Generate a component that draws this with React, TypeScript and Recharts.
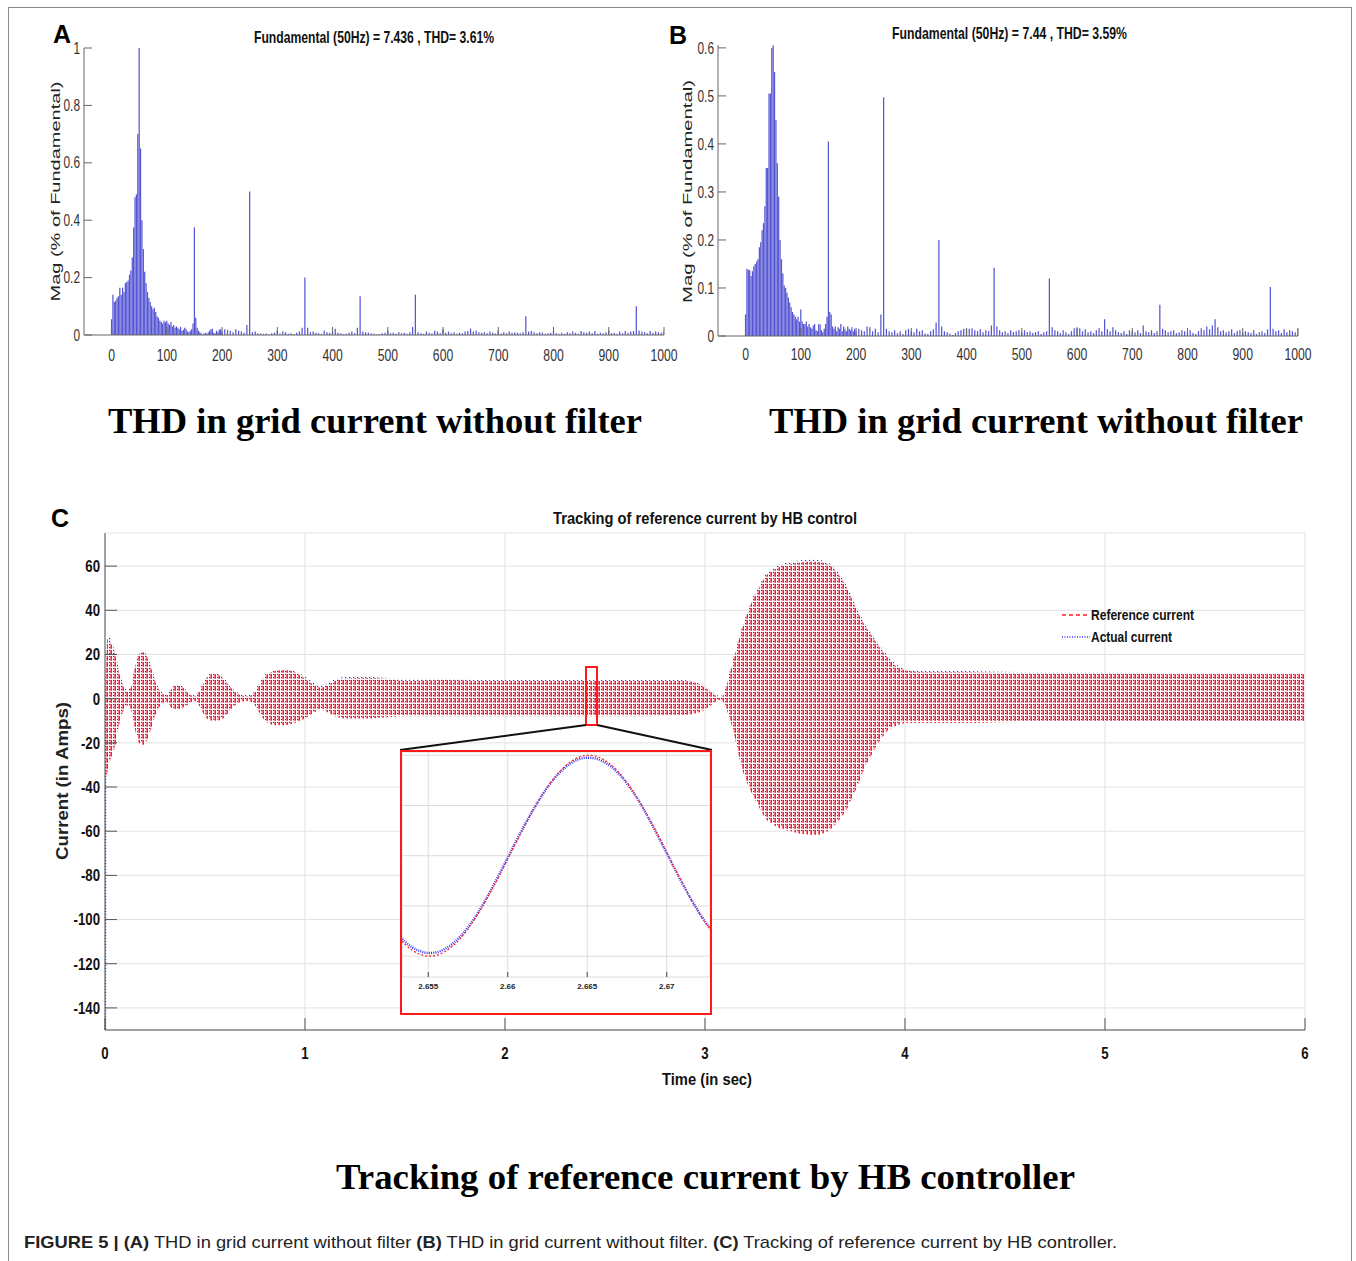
import React from 'react';
import {
  BarChart, Bar, XAxis, YAxis, ComposedChart, Area, Line, LineChart,
  CartesianGrid, ReferenceArea, ReferenceLine, Legend,
} from 'recharts';

const SANS = "'Liberation Sans',Arial,sans-serif";
const SERIF = "'Liberation Serif','Times New Roman',serif";

// ---------- Panel A / B : harmonic spectra ----------
const LOW_BAND_STEP = 2.5;   // Hz, 0..200
const HIGH_BAND_START = 205; // Hz
const HIGH_BAND_STEP = 5;    // Hz, 205..1000
const SPEC_X_TICKS = [0, 100, 200, 300, 400, 500, 600, 700, 800, 900, 1000];
const MAG_A_TICKS = [0, 0.2, 0.4, 0.6, 0.8, 1];
const MAG_B_TICKS = [0, 0.1, 0.2, 0.3, 0.4, 0.5, 0.6];

const magA_low = [
  0.055, 0.14, 0.115, 0.12, 0.13, 0.135, 0.165, 0.14, 0.165, 0.15,
  0.18, 0.185, 0.19, 0.21, 0.225, 0.27, 0.375, 0.48, 0.49, 0.70,
  1.0, 0.65, 0.40, 0.30, 0.22, 0.18, 0.15, 0.13, 0.115, 0.10,
  0.09, 0.095, 0.08, 0.065, 0.06, 0.05, 0.045, 0.04, 0.05, 0.045,
  0.05, 0.04, 0.035, 0.045, 0.03, 0.035, 0.025, 0.03, 0.025, 0.02,
  0.028, 0.015, 0.018, 0.025, 0.02, 0.012, 0.01, 0.015, 0.02, 0.04,
  0.375, 0.06, 0.025, 0.015, 0.01, 0.005, 0.002, 0.005, 0.008, 0.004,
  0.01, 0.015, 0.02, 0.022, 0.008, 0.005, 0.015, 0.01, 0.018, 0.02,
  0.012,
];
const magA_high = [
  0.02, 0.018, 0.015, 0.01, 0.02, 0.015, 0.012, 0.008, 0.035, 0.50,
  0.01, 0.012, 0.006, 0.005, 0.004, 0.005, 0.003, 0.006, 0.008, 0.015,
  0.005, 0.012, 0.01, 0.004, 0.006, 0.003, 0.008, 0.012, 0.025, 0.20,
  0.025, 0.01, 0.012, 0.008, 0.006, 0.004, 0.015, 0.01, 0.008, 0.012,
  0.022, 0.008, 0.006, 0.003, 0.004, 0.008, 0.012, 0.006, 0.025, 0.135,
  0.012, 0.01, 0.008, 0.005, 0.004, 0.002, 0.003, 0.006, 0.008, 0.015,
  0.006, 0.008, 0.004, 0.01, 0.006, 0.008, 0.004, 0.01, 0.028, 0.14,
  0.01, 0.006, 0.004, 0.012, 0.008, 0.005, 0.015, 0.012, 0.006, 0.02,
  0.008, 0.012, 0.006, 0.01, 0.004, 0.008, 0.006, 0.012, 0.014, 0.022,
  0.012, 0.016, 0.01, 0.008, 0.01, 0.006, 0.012, 0.008, 0.005, 0.016,
  0.005, 0.01, 0.006, 0.012, 0.008, 0.01, 0.008, 0.006, 0.01, 0.065,
  0.012, 0.014, 0.01, 0.006, 0.01, 0.008, 0.004, 0.006, 0.008, 0.015,
  0.006, 0.004, 0.008, 0.004, 0.01, 0.006, 0.012, 0.008, 0.004, 0.014,
  0.01, 0.008, 0.012, 0.006, 0.014, 0.004, 0.008, 0.006, 0.01, 0.016,
  0.006, 0.008, 0.004, 0.012, 0.006, 0.014, 0.008, 0.012, 0.014, 0.10,
  0.016, 0.012, 0.01, 0.006, 0.014, 0.008, 0.012, 0.01, 0.008, 0.012,
];

const magB_low = [
  0.045, 0.14, 0.138, 0.137, 0.125, 0.135, 0.145, 0.15, 0.155, 0.16,
  0.185, 0.195, 0.22, 0.235, 0.27, 0.35, 0.35, 0.505, 0.505, 0.60,
  0.605, 0.55, 0.45, 0.36, 0.29, 0.20, 0.16, 0.13, 0.105, 0.10,
  0.09, 0.08, 0.07, 0.06, 0.05, 0.045, 0.04, 0.035, 0.04, 0.03,
  0.055, 0.03, 0.025, 0.025, 0.03, 0.02, 0.025, 0.018, 0.015, 0.022,
  0.025, 0.012, 0.01, 0.025, 0.024, 0.012, 0.008, 0.015, 0.025, 0.04,
  0.405, 0.05, 0.045, 0.02, 0.015, 0.02, 0.01, 0.018, 0.015, 0.025,
  0.01, 0.02, 0.015, 0.01, 0.02, 0.015, 0.012, 0.018, 0.01, 0.015,
  0.01,
];
const magB_high = [
  0.015, 0.012, 0.01, 0.02, 0.018, 0.01, 0.015, 0.008, 0.045, 0.497,
  0.015, 0.01, 0.008, 0.012, 0.006, 0.01, 0.004, 0.012, 0.015, 0.01,
  0.008, 0.015, 0.01, 0.012, 0.005, 0.004, 0.01, 0.014, 0.028, 0.20,
  0.02, 0.01, 0.008, 0.005, 0.002, 0.006, 0.01, 0.012, 0.015, 0.014,
  0.015, 0.016, 0.012, 0.01, 0.014, 0.008, 0.012, 0.01, 0.022, 0.142,
  0.02, 0.012, 0.008, 0.01, 0.006, 0.012, 0.008, 0.01, 0.012, 0.008,
  0.012, 0.008, 0.01, 0.006, 0.008, 0.01, 0.004, 0.008, 0.01, 0.12,
  0.018, 0.012, 0.01, 0.006, 0.012, 0.008, 0.004, 0.01, 0.016, 0.018,
  0.016, 0.01, 0.014, 0.008, 0.01, 0.006, 0.012, 0.016, 0.01, 0.035,
  0.014, 0.01, 0.018, 0.012, 0.008, 0.006, 0.01, 0.004, 0.012, 0.01,
  0.008, 0.012, 0.006, 0.022, 0.01, 0.008, 0.012, 0.006, 0.01, 0.065,
  0.015, 0.012, 0.008, 0.01, 0.012, 0.006, 0.008, 0.012, 0.01, 0.008,
  0.012, 0.006, 0.004, 0.01, 0.016, 0.012, 0.02, 0.014, 0.022, 0.035,
  0.018, 0.01, 0.012, 0.008, 0.01, 0.014, 0.006, 0.01, 0.012, 0.008,
  0.01, 0.008, 0.006, 0.012, 0.004, 0.008, 0.01, 0.006, 0.014, 0.102,
  0.015, 0.01, 0.012, 0.006, 0.014, 0.008, 0.012, 0.01, 0.008, 0.015,
];

// ---------- Panel C : current tracking (envelopes of the 50 Hz waveform) ----------
const TIME_TICKS = [0, 1, 2, 3, 4, 5, 6];
const CURRENT_TICKS = [-140, -120, -100, -80, -60, -40, -20, 0, 20, 40, 60];
const tC = [
  0, 0.008, 0.012, 0.03, 0.05, 0.07, 0.09, 0.11, 0.13, 0.15, 0.17,
  0.19, 0.21, 0.23, 0.25, 0.27, 0.29, 0.31, 0.33, 0.35, 0.37,
  0.39, 0.41, 0.43, 0.45, 0.47, 0.50, 0.53, 0.56, 0.59, 0.62,
  0.65, 0.68, 0.71, 0.74, 0.77, 0.80, 0.85, 0.90, 0.95, 1.00,
  1.05, 1.08, 1.11, 1.15, 1.20, 1.30, 1.40, 1.50, 1.70, 1.90,
  2.10, 2.30, 2.50, 2.70, 2.90, 2.96, 3.00, 3.03, 3.06, 3.08,
  3.10, 3.12, 3.15, 3.18, 3.21, 3.24, 3.27, 3.30, 3.34, 3.38,
  3.43, 3.47, 3.51, 3.55, 3.59, 3.63, 3.67, 3.71, 3.74, 3.77,
  3.80, 3.83, 3.86, 3.89, 3.92, 3.95, 3.98, 4.02, 4.10, 4.30,
  4.60, 5.00, 5.40, 5.80, 6.00,
];
const refHi = [
  0, 20, 27, 25, 20, 12, 6, 3, 5, 14, 20,
  21, 19, 14, 8, 4, 2, 1.5, 4, 6, 6,
  5, 3, 1.5, 1, 3, 8, 11, 11, 9, 6,
  3, 1.5, 1, 2, 6, 10, 12.5, 13, 12, 9,
  6, 5, 6, 8, 9, 9.5, 9, 8, 8.5, 8,
  8, 8, 8, 8, 8, 7, 5, 3, 1, 0.5,
  3, 10, 20, 30, 38, 45, 50, 55, 58, 60,
  61, 61.5, 62, 62, 61.5, 60, 56, 50, 44, 38,
  33, 29, 25, 21, 18, 15, 13.5, 12.5, 12, 12,
  11.5, 11.5, 11, 11, 11,
];
const refLo = [
  -35, -35, -33, -27, -22, -12, -6, -3, -5, -14, -20,
  -21, -19, -14, -8, -4, -2, -1.5, -4, -5, -5,
  -4, -3, -1.5, -1, -3, -8, -10, -10, -9, -6,
  -3, -1.5, -1, -2, -6, -10, -12, -12, -11, -9,
  -6, -5, -6, -8, -9, -9, -8.5, -8, -8, -8,
  -8, -8, -8, -8, -7.5, -6.5, -5, -3, -1, -0.5,
  -3, -8, -18, -30, -38, -44, -49, -54, -57, -59,
  -60, -61, -61.5, -62, -61, -59, -55, -50, -44, -38,
  -31, -26, -21, -17, -14, -12.5, -11.5, -11, -11, -11,
  -10.5, -10.5, -10.5, -10.5, -10.5,
];
const actHi = [
  2, 24, 30, 27, 21, 13, 7, 3.5, 5.5, 15, 21,
  21.5, 20, 15, 9, 4.5, 2.5, 2, 4.5, 6.5, 6.5,
  5.5, 3.5, 2, 1.5, 3.5, 9, 12, 11.5, 10, 6.5,
  3.5, 2, 1.5, 2.5, 7, 11, 13, 13.5, 12.5, 10,
  7, 6, 7, 9, 10, 10, 9.5, 9, 9, 8.5,
  8.5, 8.5, 8.5, 8.5, 8.5, 7.5, 5.5, 3.5, 1.5, 1,
  4, 11, 21, 31, 39, 46, 51, 56, 59, 61,
  62, 62.5, 63, 63, 62.5, 61, 57, 51, 45, 39,
  34, 30, 26, 22, 19, 16, 14, 13, 12.5, 12.5,
  12, 12, 11.5, 11.5, 11.5,
];
const actLo = [
  -150, -150, -31, -26, -21, -11, -5.5, -2.5, -4.5, -13, -19,
  -20, -18, -13, -7.5, -3.5, -1.5, -1, -3.5, -4.5, -4.5,
  -3.5, -2.5, -1, -0.5, -2.5, -7.5, -9.5, -9.5, -8.5, -5.5,
  -2.5, -1, -0.5, -1.5, -5.5, -9.5, -11.5, -11.5, -10.5, -8.5,
  -5.5, -4.5, -5.5, -7.5, -8.5, -8.5, -8, -7.5, -7.5, -7.5,
  -7.5, -7.5, -7.5, -7.5, -7, -6, -4.5, -2.5, -0.5, 0,
  -2.5, -7.5, -17, -29, -37, -43, -48, -53, -56, -58,
  -59, -60, -60.5, -61, -60, -58, -54, -49, -43, -37,
  -30, -25, -20, -16, -13, -11.5, -10.5, -10, -10, -10,
  -10, -10, -10, -10, -10,
];

// ---------- Inset : zoom on one cycle ----------
const INSET_T_TICKS = [2.655, 2.66, 2.665, 2.67];
const INSET_Y_TICKS = [-8, -4, 0, 4, 8];
const insetT = [
  2.6530, 2.6535, 2.6540, 2.6545, 2.6550, 2.6555, 2.6560, 2.6565, 2.6570, 2.6575,
  2.6580, 2.6585, 2.6590, 2.6595, 2.6600, 2.6605, 2.6610, 2.6615, 2.6620, 2.6625,
  2.6630, 2.6635, 2.6640, 2.6645, 2.6650, 2.6655, 2.6660, 2.6665, 2.6670, 2.6675,
  2.6680, 2.6685, 2.6690, 2.6695, 2.6700, 2.6705, 2.6710, 2.6715, 2.6720, 2.6725,
  2.6730,
];
const insetRef = [
  -6.32, -7.01, -7.53, -7.86, -8.0, -7.94, -7.68, -7.24, -6.62, -5.83,
  -4.9, -3.85, -2.71, -1.5, -0.25, 1.0, 2.23, 3.41, 4.5, 5.48,
  6.32, 7.01, 7.53, 7.86, 8.0, 7.94, 7.68, 7.24, 6.62, 5.83,
  4.9, 3.85, 2.71, 1.5, 0.25, -1.0, -2.23, -3.41, -4.5, -5.48,
  -6.32,
];
const insetAct = [
  -6.1, -6.8, -7.3, -7.6, -7.75, -7.7, -7.45, -7.05, -6.45, -5.7,
  -4.8, -3.75, -2.6, -1.4, -0.15, 1.1, 2.3, 3.45, 4.5, 5.45,
  6.25, 6.9, 7.4, 7.7, 7.8, 7.75, 7.5, 7.1, 6.5, 5.75,
  4.85, 3.8, 2.65, 1.45, 0.2, -1.05, -2.25, -3.4, -4.45, -5.4,
  -6.2,
];

// ---------- data assembly ----------
function buildSpectrum(low: number[], high: number[]) {
  const rows = low.map((m, i) => ({ f: i * LOW_BAND_STEP, mag: m }));
  high.forEach((m, i) => rows.push({ f: HIGH_BAND_START + i * HIGH_BAND_STEP, mag: m }));
  return rows;
}
const specA = buildSpectrum(magA_low, magA_high);
const specB = buildSpectrum(magB_low, magB_high);
const trackData = tC.map((t, i) => ({ t, ref: [refLo[i], refHi[i]], act: [actLo[i], actHi[i]] }));
const insetData = insetT.map((t, i) => ({ t, ref: insetRef[i], act: insetAct[i] }));

const fmtMag = (v: number) => (v === 0 ? '0' : v === 1 ? '1' : v.toFixed(1));

// condensed tick text (Arial-Narrow look): Liberation Sans squeezed horizontally
function makeTick(o: { size: number; weight: number; fill: string; sx: number; dy: string; fmt?: (v: number) => string }) {
  return (p: any) => {
    const v = p.payload ? p.payload.value : '';
    const label = o.fmt ? o.fmt(v) : String(v);
    return (
      <g transform={`translate(${p.x},${p.y}) scale(${o.sx},1)`}>
        <text x={0} y={0} dy={o.dy} textAnchor={p.textAnchor} fontFamily={SANS} fontSize={o.size}
          fontWeight={o.weight} fill={o.fill}>{label}</text>
      </g>
    );
  };
}
const EmptyTick = () => <g />;

const specXTick = makeTick({ size: 16.5, weight: 400, fill: '#333', sx: 0.74, dy: '0.71em' });
const specYTick = makeTick({ size: 16, weight: 400, fill: '#333', sx: 0.74, dy: '0.355em', fmt: fmtMag });
const trackXTick = makeTick({ size: 16.5, weight: 700, fill: '#111', sx: 0.8, dy: '0.71em' });
const trackYTick = makeTick({ size: 16.5, weight: 700, fill: '#111', sx: 0.8, dy: '0.355em' });

function Spectrum(props: any) {
  const { data, left, margin, yDomain, yTicks, xTickMargin } = props;
  return (
    <div style={{ position: 'absolute', left, top: 0 }}>
      <BarChart width={700} height={380} data={data} margin={margin}>
        <XAxis dataKey="f" type="number" domain={[-50, 1000]} allowDataOverflow ticks={SPEC_X_TICKS}
          interval={0} height={30} tickSize={-8} tickMargin={xTickMargin} stroke="#666" tick={specXTick} />
        <XAxis xAxisId="top" orientation="top" type="number" domain={[-50, 1000]} allowDataOverflow
          ticks={SPEC_X_TICKS} interval={0} height={0} tickSize={-8} stroke="#666" tick={EmptyTick} />
        <YAxis type="number" domain={yDomain} allowDataOverflow ticks={yTicks} interval={0} width={30}
          tickSize={-8} tickMargin={12} stroke="#666" tick={specYTick} />
        <YAxis yAxisId="right" orientation="right" type="number" domain={yDomain} allowDataOverflow
          ticks={yTicks} interval={0} width={0} tickSize={-8} stroke="#666" tick={EmptyTick} />
        <Bar dataKey="mag" fill="#5656d4" barSize={1.4} isAnimationActive={false} />
      </BarChart>
    </div>
  );
}

function TrackLegend() {
  return (
    <svg width={200} height={44} style={{ display: 'block', overflow: 'visible' }}>
      <line x1={2} y1={9} x2={30} y2={9} stroke="#ff2020" strokeWidth={1.3} strokeDasharray="4 3" />
      <text x={31} y={14} fontFamily={SANS} fontWeight={700} fontSize={14} fill="#111"
        textLength={103} lengthAdjust="spacingAndGlyphs">Reference current</text>
      <line x1={2} y1={31} x2={30} y2={31} stroke="#3030ff" strokeWidth={1.5} strokeDasharray="1 1.5" />
      <text x={31} y={36} fontFamily={SANS} fontWeight={700} fontSize={14} fill="#111"
        textLength={81} lengthAdjust="spacingAndGlyphs">Actual current</text>
    </svg>
  );
}

function Tracking() {
  return (
    <div style={{ position: 'absolute', left: 0, top: 500 }}>
      <ComposedChart width={1356} height={620} data={trackData} margin={{ top: 33, right: 51, bottom: 50, left: 55 }}>
        <defs>
          <pattern id="refPat" x={0} y={0} width={4} height={6} patternUnits="userSpaceOnUse">
            <rect x={2.4} y={0} width={1.6} height={4.8} fill="#ff1a2a" />
          </pattern>
          <pattern id="actPat" x={0} y={0} width={4} height={3} patternUnits="userSpaceOnUse">
            <rect x={1.0} y={0} width={1.2} height={1.2} fill="#2a2aff" />
            <rect x={1.0} y={1.2} width={1.2} height={1.8} fill="#dcdfff" />
          </pattern>
        </defs>
        <CartesianGrid stroke="#e2e2e2" />
        <XAxis dataKey="t" type="number" domain={[0, 6]} allowDataOverflow ticks={TIME_TICKS} interval={0}
          height={40} tickSize={-12} tickMargin={29} stroke="#555" tick={trackXTick} />
        <XAxis xAxisId="top" orientation="top" type="number" domain={[0, 6]} allowDataOverflow
          ticks={TIME_TICKS} interval={0} height={0} tickSize={-14} stroke="#555" tick={EmptyTick} />
        <YAxis type="number" domain={[-150, 75]} allowDataOverflow ticks={CURRENT_TICKS} interval={0} width={50}
          tickSize={-12} tickMargin={17} stroke="#555" tick={trackYTick} />
        <YAxis yAxisId="right" orientation="right" type="number" domain={[-150, 75]} allowDataOverflow
          ticks={CURRENT_TICKS} interval={0} width={0} tickSize={-12} stroke="#555" tick={EmptyTick} />
        <Area name="Actual current" dataKey="act" type="linear" stroke="none" fill="url(#actPat)"
          fillOpacity={1} isAnimationActive={false} dot={false} activeDot={false} />
        <Area name="Reference current" dataKey="ref" type="monotoneX" stroke="none" fill="url(#refPat)"
          fillOpacity={1} isAnimationActive={false} dot={false} activeDot={false} />
        <ReferenceArea x1={2.405} x2={2.46} y1={-11.9} y2={14.35} stroke="#ff1a1a" strokeWidth={2}
          fill="none" fillOpacity={0} ifOverflow="visible" />
        <ReferenceLine segment={[{ x: 2.405, y: -11.9 }, { x: 1.475, y: -23.2 }]} stroke="#111" strokeWidth={2} ifOverflow="visible" />
        <ReferenceLine segment={[{ x: 2.46, y: -11.9 }, { x: 3.035, y: -23.2 }]} stroke="#111" strokeWidth={2} ifOverflow="visible" />
        <Legend layout="horizontal" verticalAlign="middle" align="center"
          wrapperStyle={{ left: 1060, top: 106, width: 200, height: 44 }} content={() => <TrackLegend />} />
      </ComposedChart>
      <div style={{
        position: 'absolute', left: 400, top: 250, width: 312, height: 265,
        border: '2px solid #ff1a1a', boxSizing: 'border-box', background: '#fff',
      }}>
        <LineChart width={308} height={261} data={insetData} margin={{ top: 0, right: 0, bottom: 0, left: 0 }}>
          <CartesianGrid stroke="#dcdcdc" />
          <XAxis dataKey="t" type="number" domain={[2.65335, 2.67272]} allowDataOverflow ticks={INSET_T_TICKS}
            interval={0} height={36} tickSize={-5} tickMargin={11} axisLine={false} stroke="#444"
            tick={{ fontSize: 8, fontWeight: 700, fill: '#222', fontFamily: SANS }} tickFormatter={(v: number) => String(v)} />
          <YAxis hide type="number" domain={[-9.66, 8.26]} allowDataOverflow ticks={INSET_Y_TICKS} />
          <Line dataKey="act" type="monotone" stroke="#3434ff" strokeWidth={2.4} strokeDasharray="1 1.2"
            dot={false} isAnimationActive={false} />
          <Line dataKey="ref" type="monotone" stroke="#ff2020" strokeWidth={1.2} strokeDasharray="2 2"
            dot={false} isAnimationActive={false} />
        </LineChart>
      </div>
    </div>
  );
}

function Overlay() {
  const vText = (x: number, y: number, len: number, txt: string, weight: number, size: number, fam: string) => (
    <text transform={`translate(${x},${y}) rotate(-90)`} textAnchor="middle" dominantBaseline="central"
      fontFamily={fam} fontWeight={weight} fontSize={size} fill="#222" textLength={len} lengthAdjust="spacingAndGlyphs">{txt}</text>
  );
  return (
    <svg width={1356} height={1261} style={{ position: 'absolute', left: 0, top: 0, pointerEvents: 'none' }}>
      <text x={53} y={43} fontFamily={SANS} fontWeight={700} fontSize={25} fill="#000">A</text>
      <text x={669} y={44} fontFamily={SANS} fontWeight={700} fontSize={25} fill="#000">B</text>
      <text x={51} y={527} fontFamily={SANS} fontWeight={700} fontSize={25} fill="#000">C</text>

      <text x={254} y={42.5} fontFamily={SANS} fontWeight={700} fontSize={17} fill="#111"
        textLength={240} lengthAdjust="spacingAndGlyphs">Fundamental (50Hz) = 7.436 , THD= 3.61%</text>
      <text x={892} y={38.5} fontFamily={SANS} fontWeight={700} fontSize={17} fill="#111"
        textLength={235} lengthAdjust="spacingAndGlyphs">Fundamental (50Hz) = 7.44 , THD= 3.59%</text>
      <text x={553} y={524} fontFamily={SANS} fontWeight={700} fontSize={17} fill="#111"
        textLength={304} lengthAdjust="spacingAndGlyphs">Tracking of reference current by HB control</text>
      <text x={662} y={1085} fontFamily={SANS} fontWeight={700} fontSize={17} fill="#111"
        textLength={90} lengthAdjust="spacingAndGlyphs">Time (in sec)</text>

      {vText(55.5, 191.5, 220, 'Mag (% of Fundamental)', 400, 13.5, SANS)}
      {vText(687.5, 191.5, 223, 'Mag (% of Fundamental)', 400, 13.5, SANS)}
      {vText(62.5, 781, 158, 'Current (in Amps)', 700, 16, SANS)}

      <text x={108} y={433} fontFamily={SERIF} fontWeight={700} fontSize={36} fill="#000"
        textLength={534} lengthAdjust="spacingAndGlyphs">THD in grid current without filter</text>
      <text x={769} y={433} fontFamily={SERIF} fontWeight={700} fontSize={36} fill="#000"
        textLength={534} lengthAdjust="spacingAndGlyphs">THD in grid current without filter</text>
      <text x={336} y={1189} fontFamily={SERIF} fontWeight={700} fontSize={36} fill="#000"
        textLength={739} lengthAdjust="spacingAndGlyphs">Tracking of reference current by HB controller</text>

      <text x={24} y={1248} fontFamily={SANS} fontSize={17} fill="#222" textLength={1093} lengthAdjust="spacingAndGlyphs">
        <tspan fontWeight={700}>FIGURE 5 | (A)</tspan> THD in grid current without filter <tspan fontWeight={700}>(B)</tspan> THD in grid current without filter. <tspan fontWeight={700}>(C)</tspan> Tracking of reference current by HB controller.
      </text>
    </svg>
  );
}

export default function App() {
  return (
    <div style={{ position: 'absolute', left: 0, top: 0, width: 1356, height: 1261, background: '#fff', overflow: 'hidden' }}>
      <div style={{
        position: 'absolute', left: 8, top: 7, width: 1344, height: 1254,
        borderLeft: '1px solid #8a8a8a', borderRight: '1px solid #8a8a8a', borderTop: '1px solid #8a8a8a', boxSizing: 'border-box',
      }} />
      <Spectrum data={specA} left={0} margin={{ top: 48, right: 36, bottom: 15, left: 54 }}
        yDomain={[0, 1]} yTicks={MAG_A_TICKS} xTickMargin={22} />
      <Spectrum data={specB} left={640} margin={{ top: 45, right: 42, bottom: 14, left: 48 }}
        yDomain={[0, 0.606]} yTicks={MAG_B_TICKS} xTickMargin={20} />
      <Tracking />
      <Overlay />
    </div>
  );
}
